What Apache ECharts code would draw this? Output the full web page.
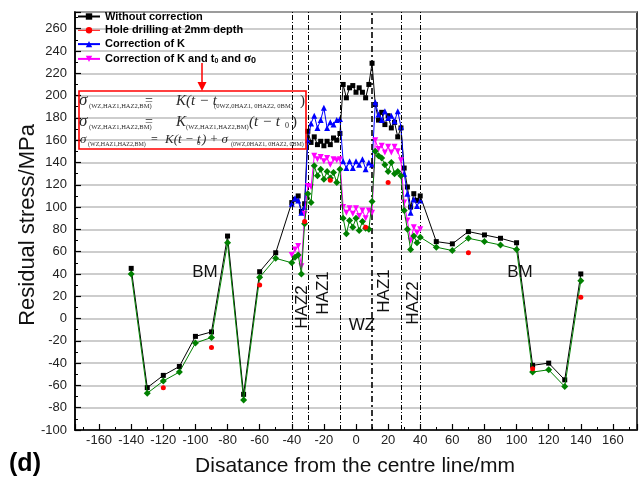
<!DOCTYPE html>
<html>
<head>
<meta charset="utf-8">
<script src="https://cdn.jsdelivr.net/npm/echarts@6/dist/echarts.min.js"></script>
<style>
html,body{margin:0;padding:0;background:#fff}
#main{width:640px;height:481px}
</style>
</head>
<body>
<div id="main"></div>
<script>
// base metal points, left and right of the weld
const xLeft = [-140, -130, -120, -110, -100, -90, -80, -70, -60, -50];
const xRight = [50, 60, 70, 80, 90, 100, 110, 120, 130, 140];
// weld zone points (HAZ2, HAZ1, WZ, HAZ1, HAZ2)
const xCore = [-40, -38, -36, -34, -32, -30, -28, -26, -24, -22, -20, -18, -16, -14, -12, -10,
  -8, -6, -4, -2, 0, 2, 4, 6, 8, 10, 12, 14, 16, 18, 20, 22, 24, 26, 28, 30, 32, 34, 36, 38, 40];

const blackLeft = [45, -62, -51, -43, -16, -12, 74, -68, 42, 59];
const blackCore = [104, 107, 110, 96, 103, 168, 158, 163, 156, 159, 155, 159, 156, 162, 160, 166,
  210, 198, 207, 209, 203, 207, 203, 198, 210, 229, 192, 178, 185, 174, 182, 171, 176, 163, 171,
  135, 118, 100, 112, 106, 110];
const blackRight = [69, 67, 78, 75, 72, 68, -42, -40, -55, 40];

const greenLeft = [40, -67, -56, -48, -22, -17, 68, -73, 37, 54];
const greenCore = [50, 55, 57, 40, 85, 112, 104, 137, 128, 134, 125, 132, 126, 131, 122, 134,
  90, 76, 88, 82, 90, 79, 87, 81, 80, 105, 150, 146, 144, 138, 132, 140, 130, 132, 128,
  97, 80, 62, 74, 68, 73];
const greenRight = [64, 61, 72, 69, 66, 62, -48, -46, -61, 34];

const blueCore = [103, 108, 106, 95, 100, 160, 175, 182, 171, 178, 189, 171, 176, 174, 178, 179,
  141, 135, 141, 135, 141, 138, 143, 134, 140, 138, 194, 183, 178, 186, 180, 182, 177, 186, 172,
  130, 112, 95, 107, 101, 106];
const magentaCore = [57, 62, 65, 47, 94, 119, 118, 146, 143, 145, 141, 144, 138, 143, 142, 143,
  100, 95, 99, 94, 99, 92, 97, 90, 97, 95, 160, 152, 155, 149, 154, 149, 154, 150, 142,
  104, 88, 70, 82, 77, 80];

const xRed = [-120, -90, -60, -32, -16, 6, 20, 70, 110, 140];
const yRed = [-62, -26, 30, 87, 124, 82, 122, 59, -45, 19];

// zone boundaries (dash-dot lines)
const zoneLines = [-40, -29.5, -10, 10, 28, 40];

const names = ['Without correction', 'Hole drilling at 2mm depth', 'Correction of K', 'Correction of K and t0 and σ0'];

const sans = '"Liberation Sans", Arial, sans-serif';
const serif = '"Liberation Serif", "Times New Roman", serif';

function pairs(xs, ys) {
  return xs.map((x, i) => [x, ys[i]]);
}

function txt(x, y, text, size, opts) {
  opts = opts || {};
  return {
    type: 'text', x: x, y: y, rotation: opts.rot || 0, silent: true, z: 100,
    style: {
      text: text, fill: opts.color || '#111',
      font: (opts.italic ? 'italic ' : '') + (opts.bold ? 'bold ' : '') + size + 'px ' + (opts.family || sans),
      align: opts.align || 'left', verticalAlign: 'middle'
    }
  };
}

const eqColor = '#2a2a2a';
const eqGraphics = [
  // line 1
  txt(79, 101, 'σ', 17, {italic: true, family: serif, color: eqColor}),
  txt(89, 106, '(WZ,HAZ1,HAZ2,BM)', 6.5, {family: serif, color: eqColor}),
  txt(145, 101, '=', 14, {family: serif, color: eqColor}),
  txt(176, 101, 'K(t − t', 15, {italic: true, family: serif, color: eqColor}),
  txt(214, 106, '(0WZ,0HAZ1, 0HAZ2, 0BM)', 6.5, {family: serif, color: eqColor}),
  txt(300, 101, ')', 15, {family: serif, color: eqColor}),
  // line 2
  txt(79, 122, 'σ', 17, {italic: true, family: serif, color: eqColor}),
  txt(89, 127, '(WZ,HAZ1,HAZ2,BM)', 6.5, {family: serif, color: eqColor}),
  txt(145, 122, '=', 14, {family: serif, color: eqColor}),
  txt(176, 122, 'K', 15, {italic: true, family: serif, color: eqColor}),
  txt(186, 127, '(WZ,HAZ1,HAZ2,BM)', 6.5, {family: serif, color: eqColor}),
  txt(249, 122, '(t − t', 15, {italic: true, family: serif, color: eqColor}),
  txt(285, 126, '0', 8, {family: serif, color: eqColor}),
  txt(292, 122, ')', 15, {family: serif, color: eqColor}),
  // line 3
  txt(80, 140, 'σ', 13, {italic: true, family: serif, color: eqColor}),
  txt(88, 144, '(WZ,HAZ1,HAZ2,BM)', 6, {family: serif, color: eqColor}),
  txt(151, 140, '=', 12, {family: serif, color: eqColor}),
  txt(165, 140, 'K(t − t', 13, {italic: true, family: serif, color: eqColor}),
  txt(197, 143, '0', 7, {family: serif, color: eqColor}),
  txt(202, 140, ') + σ', 13, {italic: true, family: serif, color: eqColor}),
  txt(231, 144, '(0WZ,0HAZ1, 0HAZ2, 0BM)', 6, {family: serif, color: eqColor})
];

const chart = echarts.init(document.getElementById('main'), null, {renderer: 'canvas'});

const option = {
  animation: false,
  backgroundColor: '#fff',
  grid: {left: 75, top: 12, width: 563, height: 418, show: true, borderColor: '#000', borderWidth: 1.5},
  legend: {
    data: [
      {name: names[0]},
      {name: names[1], lineStyle: {opacity: 1, width: 1, color: '#ff0000'}},
      {name: names[2]},
      {name: names[3]}
    ],
    orient: 'vertical', left: 77, top: 11, padding: 0,
    itemWidth: 22, itemHeight: 8, itemGap: 2.8,
    selectedMode: false,
    textStyle: {
      fontFamily: sans, fontWeight: 'bold', fontSize: 11, color: '#000',
      rich: {
        s: {fontFamily: sans, fontWeight: 'bold', fontSize: 7, lineHeight: 7, verticalAlign: 'bottom'},
        g: {fontFamily: serif, fontWeight: 'bold', fontSize: 13, lineHeight: 12},
        s2: {fontFamily: sans, fontWeight: 'bold', fontSize: 9, lineHeight: 8, verticalAlign: 'bottom'}
      }
    },
    formatter: function (n) {
      if (n === names[3]) return 'Correction of K and t{s|0} and {g|σ}{s2|0}';
      return n;
    }
  },
  xAxis: {
    type: 'value', min: -175, max: 175, minInterval: 20, maxInterval: 20, splitNumber: 17,
    axisLine: {onZero: false, lineStyle: {color: '#000', width: 1.5}},
    axisTick: {inside: true, length: 6, lineStyle: {color: '#000', width: 1.2}},
    minorTick: {show: true, splitNumber: 2, length: 3, lineStyle: {color: '#000', width: 1}},
    splitLine: {show: false},
    axisLabel: {
      color: '#222', fontFamily: sans, fontSize: 13, margin: 4,
      formatter: v => (v % 20 === 0 ? String(v) : '')
    }
  },
  yAxis: {
    type: 'value', min: -100, max: 275, interval: 20,
    axisLine: {onZero: false, lineStyle: {color: '#000', width: 1.5}},
    axisTick: {inside: true, length: 6, lineStyle: {color: '#000', width: 1.2}},
    minorTick: {show: true, splitNumber: 2, length: 3, lineStyle: {color: '#000', width: 1}},
    splitLine: {show: true, lineStyle: {color: '#bdbdbd', width: 1.5}},
    axisLabel: {
      color: '#222', fontFamily: sans, fontSize: 13, margin: 8,
      formatter: v => (v % 20 === 0 ? String(v) : '')
    }
  },
  series: [
    {
      name: names[0], type: 'line', z: 3,
      data: pairs(xLeft.concat(xCore, xRight), blackLeft.concat(blackCore, blackRight)),
      symbol: 'rect', symbolSize: 5,
      itemStyle: {color: '#000'}, lineStyle: {color: '#000', width: 1},
      markLine: {
        silent: true, symbol: ['none', 'none'], label: {show: false},
        lineStyle: {color: '#000', width: 1, type: [5, 2, 1, 2]},
        data: zoneLines.map(v => (v === 10
          ? {xAxis: v, lineStyle: {width: 1.6, type: [6, 3, 2, 3]}}
          : {xAxis: v}))
      }
    },
    {
      name: names[2], type: 'line', z: 4,
      data: pairs(xCore, blueCore),
      symbol: 'triangle', symbolSize: 6,
      itemStyle: {color: '#0000ff'}, lineStyle: {color: '#0000ff', width: 1}
    },
    {
      name: names[3], type: 'line', z: 5,
      data: pairs(xCore, magentaCore),
      symbol: 'triangle', symbolRotate: 180, symbolSize: 6,
      itemStyle: {color: '#ff00ff'}, lineStyle: {color: '#ff00ff', width: 1}
    },
    {
      name: 'Final', type: 'line', z: 6,
      data: pairs(xLeft.concat(xCore, xRight), greenLeft.concat(greenCore, greenRight)),
      symbol: 'diamond', symbolSize: 7,
      itemStyle: {color: '#008000'}, lineStyle: {color: '#008000', width: 1}
    },
    {
      name: names[1], type: 'line', z: 7,
      data: pairs(xRed, yRed),
      symbol: 'circle', symbolSize: 5,
      itemStyle: {color: '#ff0000'}, lineStyle: {color: '#ff0000', width: 1, opacity: 0}
    }
  ],
  graphic: [
    {type: 'rect', shape: {x: 79, y: 91, width: 227, height: 58}, silent: true, z: 99,
      style: {fill: 'none', stroke: '#ff0000', lineWidth: 1.6}},
    {type: 'line', shape: {x1: 202, y1: 63, x2: 202, y2: 84}, silent: true, z: 99,
      style: {stroke: '#ff0000', lineWidth: 1.5}},
    {type: 'polygon', shape: {points: [[197.5, 82], [206.5, 82], [202, 91]]}, silent: true, z: 99,
      style: {fill: '#ff0000'}},
    txt(205, 272, 'BM', 17, {align: 'center'}),
    txt(520, 272, 'BM', 17, {align: 'center'}),
    txt(362, 325, 'WZ', 17, {align: 'center'}),
    txt(302, 307, 'HAZ2', 17, {align: 'center', rot: Math.PI / 2}),
    txt(323, 293, 'HAZ1', 17, {align: 'center', rot: Math.PI / 2}),
    txt(384, 291, 'HAZ1', 17, {align: 'center', rot: Math.PI / 2}),
    txt(413, 303, 'HAZ2', 17, {align: 'center', rot: Math.PI / 2}),
    txt(28, 225, 'Residual stress/MPa', 22, {align: 'center', rot: Math.PI / 2}),
    txt(355, 466, 'Disatance from the centre line/mm', 21, {align: 'center'}),
    txt(25, 464, '(d)', 25, {align: 'center', bold: true, color: '#000'})
  ].concat(eqGraphics)
};

chart.setOption(option);
</script>
</body>
</html>
